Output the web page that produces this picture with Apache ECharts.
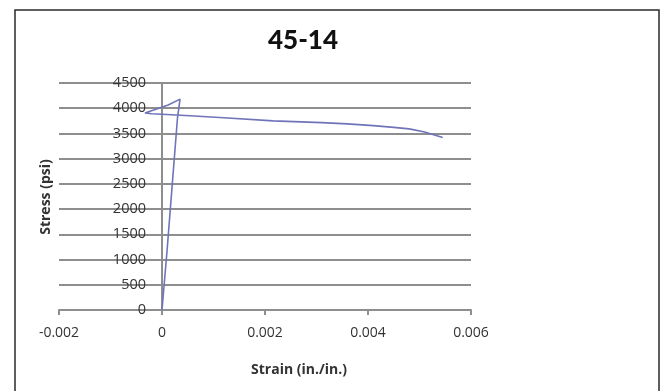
<!DOCTYPE html>
<html>
<head>
<meta charset="utf-8">
<script src="https://cdn.jsdelivr.net/npm/echarts@6/dist/echarts.min.js"></script>
<style>html,body{margin:0;padding:0;background:#fff;}#c{width:662px;height:391px;}</style>
</head>
<body>
<div id="c"></div>
<script>
var chartTitle = "45-14";
var xAxisTitle = "Strain (in./in.)";
var yAxisTitle = "Stress (psi)";
var strain = [0, 0.0001, 0.0002, 0.0003, 0.00035, 0.00012, -0.00033, -0.0002, 0, 0.00054, 0.0012, 0.00216, 0.0031, 0.0036, 0.0041, 0.0045, 0.0048, 0.0051, 0.00545];
var stress = [0, 1200, 2500, 3800, 4180, 4065, 3905, 3890, 3880, 3850, 3810, 3750, 3715, 3690, 3655, 3620, 3590, 3530, 3420];
var xTicks = [-0.002, 0, 0.002, 0.004, 0.006];
var yTicks = [0, 500, 1000, 1500, 2000, 2500, 3000, 3500, 4000, 4500];

var data = strain.map(function (s, i) { return [s, stress[i]]; });
var chart = echarts.init(document.getElementById('c'));
var gray = '#8e8e8e';
var txt = '#333333';
var gridLeft = 59, gridRight = 191;
var plotW = 662 - gridLeft - gridRight;
var zeroOffset = plotW * (0 - xTicks[0]) / (xTicks[xTicks.length - 1] - xTicks[0]);
chart.setOption({
  animation: false,
  backgroundColor: '#fff',
  grid: { left: gridLeft, right: gridRight, top: 83, bottom: 81 },
  xAxis: {
    type: 'value',
    min: xTicks[0], max: xTicks[xTicks.length - 1], interval: 0.002,
    axisLine: { show: true, lineStyle: { color: gray, width: 2 } },
    axisTick: { show: true, length: 5, lineStyle: { color: gray, width: 2 } },
    splitLine: { show: false },
    axisLabel: { margin: 16, color: txt, fontFamily: 'Open Sans', fontSize: 14,
      formatter: function (v) { return String(+v.toFixed(4)); } }
  },
  yAxis: {
    type: 'value',
    position: 'left',
    offset: -zeroOffset,
    min: yTicks[0], max: yTicks[yTicks.length - 1], interval: 500,
    axisLine: { show: true, onZero: false, lineStyle: { color: gray, width: 2 } },
    axisTick: { show: false },
    splitLine: { show: true, lineStyle: { color: gray, width: 2 } },
    axisLabel: { margin: 16, color: txt, fontFamily: 'Open Sans', fontSize: 14.5,
      formatter: function (v) { return String(v); } }
  },
  series: [{
    type: 'line',
    data: data,
    showSymbol: false,
    symbol: 'none',
    smooth: false,
    lineStyle: { color: '#6f74b9', width: 1.6 },
    z: 5
  }],
  graphic: [
    { type: 'rect', shape: { x: 15, y: 10, width: 644, height: 400 },
      style: { fill: 'none', stroke: '#2a2a2a', lineWidth: 1.5 }, silent: true },
    { type: 'text', x: 303, y: 41,
      style: { text: chartTitle, textAlign: 'center', textVerticalAlign: 'middle',
        font: '900 26px Lato', fill: '#111' } },
    { type: 'text', x: 299, y: 370,
      style: { text: xAxisTitle, textAlign: 'center', textVerticalAlign: 'middle',
        font: 'bold 14px "Open Sans"', fill: txt } },
    { type: 'text', x: 46, y: 197, rotation: Math.PI / 2,
      style: { text: yAxisTitle, textAlign: 'center', textVerticalAlign: 'middle',
        font: 'bold 14px "Open Sans"', fill: txt } }
  ]
});
</script>
</body>
</html>
